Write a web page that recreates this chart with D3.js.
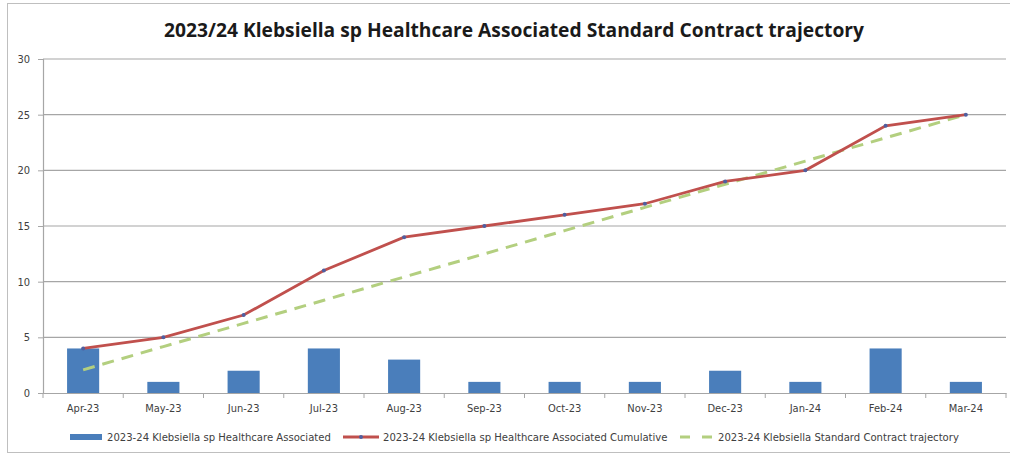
<!DOCTYPE html>
<html>
<head>
<meta charset="utf-8">
<script src="https://cdn.jsdelivr.net/npm/d3@7"></script>
<style>
  body { margin: 0; background: #fff; }
  text { font-family: "Liberation Sans Narrow", "DejaVu Sans Condensed", "Liberation Sans", sans-serif; }
</style>
</head>
<body>
<script>
// chart values
const months = ["Apr-23","May-23","Jun-23","Jul-23","Aug-23","Sep-23","Oct-23","Nov-23","Dec-23","Jan-24","Feb-24","Mar-24"]
const monthly = [4, 1, 2, 4, 3, 1, 1, 1, 2, 1, 4, 1]
const cumulative = [4, 5, 7, 11, 14, 15, 16, 17, 19, 20, 24, 25]
const trajectory = [2.08, 4.17, 6.25, 8.33, 10.42, 12.5, 14.58, 16.67, 18.75, 20.83, 22.92, 25]
const yTicks = [0, 5, 10, 15, 20, 25, 30]
const seriesNames = [
  "2023-24 Klebsiella sp Healthcare Associated",
  "2023-24 Klebsiella sp Healthcare Associated Cumulative",
  "2023-24 Klebsiella Standard Contract trajectory"
]
const title = "2023/24  Klebsiella sp Healthcare Associated Standard Contract trajectory"

const svgWidth = 1010
const svgHeight = 457
const margin = {top: 59, right: 4, bottom: 64, left: 43}
const gWidth = svgWidth - margin.left - margin.right
const gHeight = svgHeight - margin.top - margin.bottom

const svg = d3.select("body").append("svg")
  .attr("width", svgWidth)
  .attr("height", svgHeight)

// outer frame
svg.append("rect")
  .attr("x", 7.5).attr("y", 3.5)
  .attr("width", 1010).attr("height", 449)
  .attr("fill", "none").attr("stroke", "#bfbfbf")

svg.append("text")
  .attr("x", 514).attr("y", 37)
  .attr("text-anchor", "middle")
  .style("font-size", "19px").style("font-weight", "bold")
  .style("font-family", "'Open Sans', sans-serif")
  .attr("fill", "#1a1a1a")
  .attr("textLength", 700).attr("lengthAdjust", "spacingAndGlyphs")
  .text(title)

const g = svg.append("g").attr("transform", "translate(" + margin.left + "," + margin.top + ")")

const xScale = d3.scaleBand().domain(months).range([0, gWidth])
const yScale = d3.scaleLinear().domain([0, 30]).range([gHeight, 0])

// gridlines
g.append("g").selectAll("line")
  .data(yTicks.filter(d => d > 0))
  .enter().append("line")
  .attr("x1", 0).attr("x2", gWidth)
  .attr("y1", d => yScale(d)).attr("y2", d => yScale(d))
  .attr("stroke", "#a6a6a6").attr("stroke-width", 1.2)

// y axis
const yAxis = d3.axisLeft(yScale).tickValues(yTicks).tickSize(5).tickPadding(8)
const ya = g.append("g").call(yAxis)
ya.select(".domain").attr("stroke", "#a6a6a6").attr("stroke-width", 1.2)
ya.selectAll(".tick line").attr("stroke", "#a6a6a6")
ya.selectAll("text").style("font-size", "11px").attr("fill", "#404040")

// x axis
const xAxis = d3.axisBottom(xScale).tickSize(0).tickPadding(11)
const xa = g.append("g").attr("transform", "translate(0," + gHeight + ")").call(xAxis)
xa.select(".domain").attr("stroke", "#a6a6a6").attr("stroke-width", 1.2)
xa.selectAll("text").style("font-size", "11px").attr("fill", "#404040")
// tick marks between categories
xa.selectAll(".sep").data(months.concat(["end"]))
  .enter().append("line").attr("class", "sep")
  .attr("x1", (d, i) => i * xScale.step()).attr("x2", (d, i) => i * xScale.step())
  .attr("y1", 0).attr("y2", 5)
  .attr("stroke", "#a6a6a6")

// bars
const barW = xScale.bandwidth() * 0.4
g.selectAll(".bar").data(monthly).enter().append("rect")
  .attr("class", "bar")
  .attr("x", (d, i) => xScale(months[i]) + (xScale.bandwidth() - barW) / 2)
  .attr("y", d => yScale(d))
  .attr("width", barW)
  .attr("height", d => gHeight - yScale(d))
  .attr("fill", "#4a7ebb")

const cx = (d, i) => xScale(months[i]) + xScale.bandwidth() / 2
const line = d3.line().x(cx).y(d => yScale(d))

// trajectory (dashed green)
g.append("path").datum(trajectory)
  .attr("d", line)
  .attr("fill", "none").attr("stroke", "#b3cf7f")
  .attr("stroke-width", 3).attr("stroke-dasharray", "12,8")

// cumulative (red)
g.append("path").datum(cumulative)
  .attr("d", line)
  .attr("fill", "none").attr("stroke", "#c0504d")
  .attr("stroke-width", 2.8)

g.selectAll(".pt").data(cumulative).enter().append("circle")
  .attr("class", "pt")
  .attr("cx", cx).attr("cy", d => yScale(d))
  .attr("r", 2).attr("fill", "#4f5fa0")

// legend
const legFont = "11.2px"
const leg = svg.append("g").attr("transform", "translate(0,437)")
leg.append("rect").attr("x", 70).attr("y", -3).attr("width", 32).attr("height", 6).attr("fill", "#4a7ebb")
leg.append("text").attr("x", 107).attr("y", 4).text(seriesNames[0])
  .style("font-size", legFont).attr("fill", "#404040")

leg.append("line").attr("x1", 343).attr("x2", 379).attr("y1", 0).attr("y2", 0)
  .attr("stroke", "#c0504d").attr("stroke-width", 2.8)
leg.append("circle").attr("cx", 361).attr("cy", 0).attr("r", 2).attr("fill", "#4f5fa0")
leg.append("text").attr("x", 383).attr("y", 4).text(seriesNames[1])
  .style("font-size", legFont).attr("fill", "#404040")

leg.append("line").attr("x1", 680).attr("x2", 714).attr("y1", 0).attr("y2", 0)
  .attr("stroke", "#b3cf7f").attr("stroke-width", 3).attr("stroke-dasharray", "10,12")
leg.append("text").attr("x", 718).attr("y", 4).text(seriesNames[2])
  .style("font-size", legFont).attr("fill", "#404040")
</script>
</body>
</html>
